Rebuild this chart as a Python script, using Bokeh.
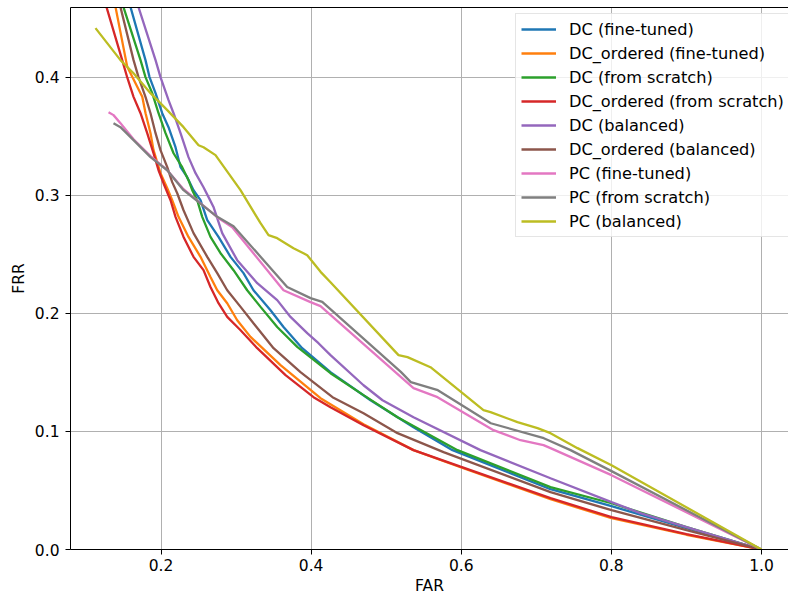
from bokeh.plotting import figure
from bokeh.models import Range1d, FixedTicker, PrintfTickFormatter, LinearAxis
from bokeh.embed import file_html
from bokeh.resources import INLINE

labels = ["DC (fine-tuned)", "DC_ordered (fine-tuned)", "DC (from scratch)",
          "DC_ordered (from scratch)", "DC (balanced)", "DC_ordered (balanced)",
          "PC (fine-tuned)", "PC (from scratch)", "PC (balanced)"]
colors = ["#1f77b4", "#ff7f0e", "#2ca02c", "#d62728", "#9467bd", "#8c564b",
          "#e377c2", "#7f7f7f", "#bcbd22"]

x_ticks = [0.2, 0.4, 0.6, 0.8, 1.0]
y_ticks = [0.0, 0.1, 0.2, 0.3, 0.4]

# DC (fine-tuned)
far_dc_ft = [0.1548, 0.1594, 0.1793, 0.1847, 0.1927, 0.2016, 0.2100, 0.2193, 0.2260, 0.2349,
             0.2433, 0.2526, 0.2616, 0.2766, 0.2926, 0.3099, 0.3232, 0.3459, 0.3632, 0.3881,
             0.4258, 0.4791, 0.5364, 0.5884, 0.7189, 0.8002, 0.9001, 1.0]
frr_dc_ft = [0.47, 0.4596, 0.4147, 0.4003, 0.3867, 0.3697, 0.3579, 0.3409, 0.3240, 0.3155,
             0.3045, 0.2960, 0.2791, 0.2649, 0.2480, 0.2342, 0.2197, 0.2028, 0.1886, 0.1706,
             0.1503, 0.1265, 0.1036, 0.0842, 0.0511, 0.0367, 0.0181, 0.0]

# DC_ordered (fine-tuned)
far_dco_ft = [0.1362, 0.1394, 0.1550, 0.1750, 0.1794, 0.1860, 0.1900, 0.1993, 0.2083, 0.2149,
              0.2233, 0.2366, 0.2526, 0.2659, 0.2749, 0.2882, 0.3015, 0.3192, 0.3592, 0.4125,
              0.4698, 0.5364, 0.5990, 0.7189, 0.8002, 0.9001, 1.0]
frr_dco_ft = [0.47, 0.4596, 0.4090, 0.3836, 0.3697, 0.3528, 0.3384, 0.3189, 0.3062, 0.2960,
              0.2819, 0.2649, 0.2480, 0.2310, 0.2197, 0.2087, 0.1943, 0.1802, 0.1562, 0.1282,
              0.1062, 0.0842, 0.0697, 0.0426, 0.0265, 0.0125, 0.0]

# DC (from scratch)
far_dc_fs = [0.1447, 0.1500, 0.1727, 0.1793, 0.1883, 0.1967, 0.2060, 0.2167, 0.2282, 0.2366,
             0.2416, 0.2482, 0.2549, 0.2659, 0.2793, 0.2966, 0.3148, 0.3326, 0.3548, 0.3815,
             0.4258, 0.4698, 0.5151, 0.5950, 0.7189, 0.8002, 0.9001, 1.0]
frr_dc_fs = [0.47, 0.4596, 0.4147, 0.4003, 0.3867, 0.3697, 0.3528, 0.3358, 0.3240, 0.3130,
             0.3045, 0.2960, 0.2819, 0.2649, 0.2511, 0.2367, 0.2197, 0.2056, 0.1886, 0.1717,
             0.1494, 0.1308, 0.1121, 0.0842, 0.0528, 0.0392, 0.0189, 0.0]

# DC_ordered (from scratch)
far_dco_fs = [0.1230, 0.1274, 0.1483, 0.1550, 0.1634, 0.1727, 0.1816, 0.1900, 0.1967, 0.2033,
              0.2127, 0.2193, 0.2300, 0.2433, 0.2566, 0.2659, 0.2766, 0.2882, 0.3060, 0.3282,
              0.3659, 0.4032, 0.4258, 0.4698, 0.5364, 0.5990, 0.7189, 0.8002, 0.9001, 1.0]
frr_dco_fs = [0.47, 0.4596, 0.4147, 0.4000, 0.3836, 0.3697, 0.3528, 0.3358, 0.3214, 0.3104,
              0.2960, 0.2819, 0.2649, 0.2480, 0.2367, 0.2225, 0.2087, 0.1971, 0.1858, 0.1706,
              0.1477, 0.1291, 0.1206, 0.1053, 0.0842, 0.0702, 0.0435, 0.0274, 0.0130, 0.0]

# DC (balanced)
far_dc_bal = [0.1647, 0.1700, 0.1927, 0.1993, 0.2100, 0.2167, 0.2260, 0.2366, 0.2460, 0.2566,
              0.2633, 0.2699, 0.2815, 0.3015, 0.3282, 0.3548, 0.3725, 0.3948, 0.4098, 0.4258,
              0.4698, 0.4951, 0.5364, 0.6256, 0.7189, 0.8002, 0.8388, 0.9001, 1.0]
frr_dc_bal = [0.47, 0.4596, 0.4147, 0.4003, 0.3808, 0.3697, 0.3528, 0.3325, 0.3189, 0.3070,
              0.2986, 0.2903, 0.2681, 0.2452, 0.2257, 0.2113, 0.1971, 0.1833, 0.1748, 0.1647,
              0.1392, 0.1265, 0.1121, 0.0842, 0.0604, 0.0401, 0.0308, 0.0189, 0.0]

# DC_ordered (balanced)
far_dco_bal = [0.1420, 0.1460, 0.1634, 0.1700, 0.1794, 0.1860, 0.1927, 0.1993, 0.2083, 0.2149,
               0.2216, 0.2300, 0.2433, 0.2616, 0.2749, 0.2882, 0.3060, 0.3232, 0.3499, 0.3858,
               0.4285, 0.4698, 0.5151, 0.5764, 0.7189, 0.8002, 0.9001, 1.0]
frr_dco_bal = [0.47, 0.4596, 0.4147, 0.4003, 0.3833, 0.3697, 0.3528, 0.3384, 0.3240, 0.3113,
               0.3019, 0.2875, 0.2681, 0.2480, 0.2342, 0.2197, 0.2056, 0.1918, 0.1706, 0.1503,
               0.1291, 0.1155, 0.0986, 0.0825, 0.0486, 0.0333, 0.0164, 0.0]

# PC (fine-tuned)
far_pc_ft = [0.1301, 0.1367, 0.1460, 0.1634, 0.1860, 0.2083, 0.2300, 0.2749, 0.2949, 0.3632,
             0.3992, 0.4125, 0.5364, 0.5684, 0.6430, 0.6789, 0.7096, 0.7189, 0.8002, 1.0]
frr_pc_ft = [0.3706, 0.3681, 0.3613, 0.3477, 0.3333, 0.3214, 0.3053, 0.2816, 0.2731, 0.2197,
             0.2096, 0.2062, 0.1367, 0.1291, 0.1011, 0.0926, 0.0884, 0.0859, 0.0630, 0.0]

# PC (from scratch)
far_pc_fs = [0.1367, 0.1460, 0.1634, 0.1860, 0.2083, 0.2300, 0.2749, 0.2966, 0.3681, 0.3992,
             0.4148, 0.5195, 0.5328, 0.5688, 0.6394, 0.7100, 0.7456, 0.8002, 1.0]
frr_pc_fs = [0.3613, 0.3579, 0.3469, 0.3325, 0.3214, 0.3045, 0.2819, 0.2740, 0.2225, 0.2130,
             0.2098, 0.1505, 0.1418, 0.1350, 0.1070, 0.0943, 0.0842, 0.0664, 0.0]

# PC (balanced)
far_pc_bal = [0.1127, 0.1460, 0.1634, 0.1860, 0.2083, 0.2300, 0.2500, 0.2566, 0.2726, 0.3059,
              0.3326, 0.3432, 0.3548, 0.3765, 0.3898, 0.3948, 0.4126, 0.4258, 0.5164, 0.5284,
              0.5590, 0.6296, 0.6390, 0.6749, 0.7016, 0.7189, 0.7549, 0.8002, 1.0]
frr_pc_bal = [0.4418, 0.4147, 0.4036, 0.3867, 0.3723, 0.3579, 0.3426, 0.3409, 0.3342, 0.3045,
              0.2765, 0.2664, 0.2638, 0.2553, 0.2511, 0.2494, 0.2353, 0.2265, 0.1647, 0.1630,
              0.1545, 0.1181, 0.1164, 0.1079, 0.1028, 0.0986, 0.0859, 0.0714, 0.0]

series = [(far_dc_ft, frr_dc_ft), (far_dco_ft, frr_dco_ft), (far_dc_fs, frr_dc_fs),
          (far_dco_fs, frr_dco_fs), (far_dc_bal, frr_dc_bal), (far_dco_bal, frr_dco_bal),
          (far_pc_ft, frr_pc_ft), (far_pc_fs, frr_pc_fs), (far_pc_bal, frr_pc_bal)]

FONT = "DejaVu Sans"
FS = "15.5px"

p = figure(width=788, height=601, output_backend="svg", toolbar_location=None,
           x_range=Range1d(0.0794, 1.036), y_range=Range1d(0.0, 0.4593),
           min_border_left=70, min_border_right=0, min_border_top=7, min_border_bottom=52)
p.outline_line_color = None
p.background_fill_color = "white"
p.border_fill_color = "white"

for (xs, ys), lab, col in zip(series, labels, colors):
    p.line(xs, ys, line_color=col, line_width=2.3, legend_label=lab)

for ax, ticks in ((p.xaxis[0], x_ticks), (p.yaxis[0], y_ticks)):
    ax.ticker = FixedTicker(ticks=ticks)
    ax.formatter = PrintfTickFormatter(format="%.1f")
    ax.major_tick_out = 5
    ax.major_tick_in = 0
    ax.minor_tick_out = 0
    ax.minor_tick_in = 0
    ax.major_tick_line_color = "black"
    ax.axis_line_color = "black"
    ax.axis_line_width = 1
    ax.major_label_text_font = FONT
    ax.major_label_text_font_size = FS
    ax.major_label_text_color = "black"
    ax.axis_label_text_font = FONT
    ax.axis_label_text_font_size = FS
    ax.axis_label_text_font_style = "normal"
    ax.axis_label_text_color = "black"

p.xaxis.major_label_standoff = 4
p.xaxis.axis_label_standoff = 3
p.xaxis.axis_label = "FAR"
p.yaxis.major_label_standoff = 6
p.yaxis.axis_label_standoff = 4
p.yaxis.axis_label = "FRR"

top = LinearAxis(ticker=FixedTicker(ticks=[]), major_label_text_font_size="0px",
                 major_tick_out=0, major_tick_in=0, minor_tick_out=0, minor_tick_in=0,
                 major_label_standoff=0, axis_line_color="black", axis_line_width=1)
p.add_layout(top, "above")

p.xgrid.ticker = FixedTicker(ticks=x_ticks)
p.ygrid.ticker = FixedTicker(ticks=y_ticks)
p.grid.grid_line_color = "#b0b0b0"
p.grid.grid_line_width = 1

lg = p.legend[0]
lg.location = (445, 312)
lg.label_text_font = FONT
lg.label_text_font_size = "16.2px"
lg.label_text_color = "black"
lg.glyph_width = 35
lg.glyph_height = 20
lg.label_height = 20
lg.label_standoff = 13
lg.spacing = 4
lg.padding = 5
lg.margin = 0
lg.border_line_color = "#cccccc"
lg.border_line_width = 1
lg.background_fill_alpha = 0.8

open("out.html", "w").write(file_html(p, INLINE))
